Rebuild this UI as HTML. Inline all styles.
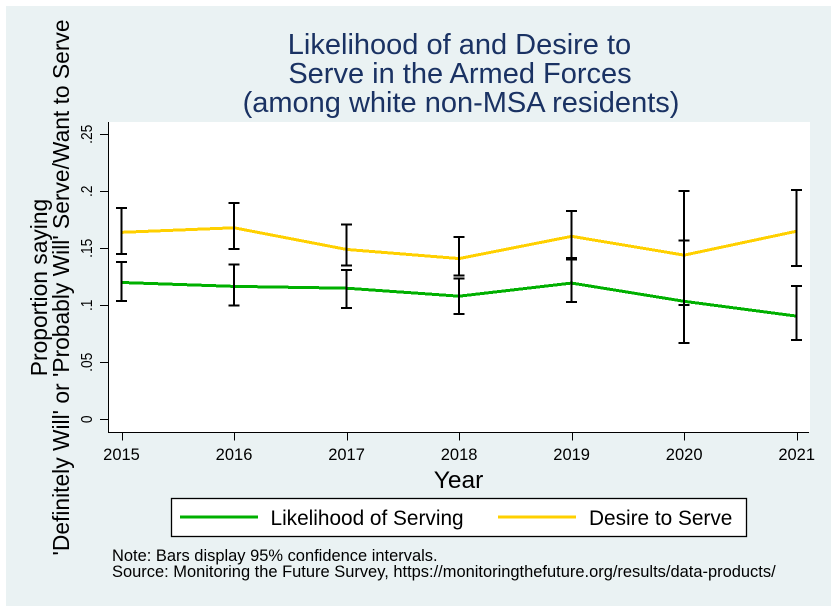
<!DOCTYPE html>
<html lang="en">
<head>
<meta charset="utf-8">
<title>Likelihood of and Desire to Serve in the Armed Forces</title>
<style>
html,body{margin:0;padding:0;background:#fff;width:837px;height:612px;overflow:hidden}
svg{display:block;font-family:"Liberation Sans",Arial,sans-serif}
text{fill:#000}
</style>
</head>
<body>
<svg id="chart" xmlns="http://www.w3.org/2000/svg" width="837" height="612" viewBox="0 0 837 612">
  <rect x="6" y="6" width="825" height="600" fill="#eaf2f3"/>
  <rect x="108" y="122" width="702" height="310" fill="#ffffff"/>
  <g font-size="29" text-anchor="middle">
    <text x="459.5" y="54" style="fill:#1a3263">Likelihood of and Desire to</text>
    <text x="460" y="83" style="fill:#1a3263">Serve in the Armed Forces</text>
    <text x="461" y="112" style="fill:#1a3263">(among white non-MSA residents)</text>
  </g>
  <g id="axes"></g>
  <g id="series"></g>
  <g id="errorbars"></g>
  <text transform="translate(47,287.5) rotate(-90)" font-size="22.8" text-anchor="middle">Proportion saying</text>
  <text transform="translate(69,287.5) rotate(-90)" font-size="22.8" text-anchor="middle">'Definitely Will' or 'Probably Will' Serve/Want to Serve</text>
  <text x="458.5" y="488" font-size="24.5" text-anchor="middle">Year</text>
  <g>
    <rect x="171.5" y="498.5" width="575" height="38" fill="#ffffff" stroke="#000000" stroke-width="1.3"/>
    <line x1="180" y1="517" x2="258" y2="517" stroke="#00b000" stroke-width="3"/>
    <text x="270.5" y="525" font-size="20.8">Likelihood of Serving</text>
    <line x1="498" y1="517" x2="576" y2="517" stroke="#ffd000" stroke-width="3"/>
    <text x="589" y="525" font-size="20.8">Desire to Serve</text>
  </g>
  <text x="112" y="561" font-size="16.47">Note: Bars display 95% confidence intervals.</text>
  <text x="112" y="577" font-size="16.47">Source: Monitoring the Future Survey, https://monitoringthefuture.org/results/data-products/</text>
</svg>
<script>
const years = [2015, 2016, 2017, 2018, 2019, 2020, 2021];
const yTickValues = [0, 0.05, 0.1, 0.15, 0.2, 0.25];
const yTickLabels = ['0', '.05', '.1', '.15', '.2', '.25'];
const likelihood = [0.120, 0.1166, 0.115, 0.108, 0.1195, 0.1035, 0.0905];
const likelihoodLow = [0.1037, 0.0997, 0.0976, 0.0924, 0.103, 0.067, 0.0696];
const likelihoodHigh = [0.138, 0.136, 0.131, 0.1233, 0.140, 0.157, 0.117];
const desire = [0.164, 0.168, 0.149, 0.141, 0.1605, 0.144, 0.165];
const desireLow = [0.145, 0.1494, 0.1347, 0.1261, 0.1415, 0.1003, 0.1345];
const desireHigh = [0.1853, 0.1897, 0.1707, 0.160, 0.1827, 0.2003, 0.201];

const NS = 'http://www.w3.org/2000/svg';
function xScale(year) { return 121.5 + (year - 2015) * (796.7 - 121.5) / 6; }
function yScale(value) { return 419.3 - value * 1140; }
function make(tag, attrs, parent) {
  const el = document.createElementNS(NS, tag);
  for (const k in attrs) el.setAttribute(k, attrs[k]);
  parent.appendChild(el);
  return el;
}

const axes = document.getElementById('axes');
const yAxisLine = make('line', {x1: 108.5, y1: 122, x2: 108.5, y2: 433, stroke: '#000', 'stroke-width': 1}, axes);


const xAxisLine = make('line', {x1: 108, y1: 432.5, x2: 809, y2: 432.5, stroke: '#000', 'stroke-width': 1}, axes);



years.forEach(function (year) {
  const x = Math.round(xScale(year)) + 0.5;
  const tick = make('line', {x1: x, y1: 432, x2: x, y2: 440.5, stroke: '#000', 'stroke-width': 1}, axes);
  
  
  const label = make('text', {x: xScale(year), y: 460, 'font-size': 16.5, 'text-anchor': 'middle'}, axes);
  label.textContent = String(year);
  
  
});

yTickValues.forEach(function (value, i) {
  const y = Math.round(yScale(value)) + 0.5;
  const tick = make('line', {x1: 100, y1: y, x2: 108.5, y2: y, stroke: '#000', 'stroke-width': 1}, axes);
  
  
  const label = make('text', {transform: 'translate(92,' + yScale(value) + ') rotate(-90) scale(0.86,1)', 'font-size': 16, 'text-anchor': 'middle'}, axes);
  label.textContent = yTickLabels[i];
  
  
});

const seriesGroup = document.getElementById('series');
function pointsFor(values) {
  return values.map(function (v, i) { return xScale(years[i]) + ',' + yScale(v); }).join(' ');
}
const likelihoodLine = make('polyline', {points: pointsFor(likelihood), fill: 'none', stroke: '#00b000', 'stroke-width': 3, 'shape-rendering': 'crispEdges'}, seriesGroup);


const desireLine = make('polyline', {points: pointsFor(desire), fill: 'none', stroke: '#ffd000', 'stroke-width': 3, 'shape-rendering': 'crispEdges'}, seriesGroup);



const barsGroup = document.getElementById('errorbars');
function drawBars(lows, highs, barName) {
  years.forEach(function (year, i) {
    const x = xScale(year);
    const top = yScale(highs[i]);
    const bottom = yScale(lows[i]);
    const path = 'M' + x + ' ' + top + 'V' + bottom +
      'M' + (x - 5.5) + ' ' + top + 'H' + (x + 5.5) +
      'M' + (x - 5.5) + ' ' + bottom + 'H' + (x + 5.5);
    const bar = make('path', {d: path, fill: 'none', stroke: '#000', 'stroke-width': 2, 'shape-rendering': 'crispEdges'}, barsGroup);
    
    
  });
}
drawBars(likelihoodLow, likelihoodHigh, 'likelihood-error-bar');
drawBars(desireLow, desireHigh, 'desire-error-bar');
</script>
</body>
</html>
